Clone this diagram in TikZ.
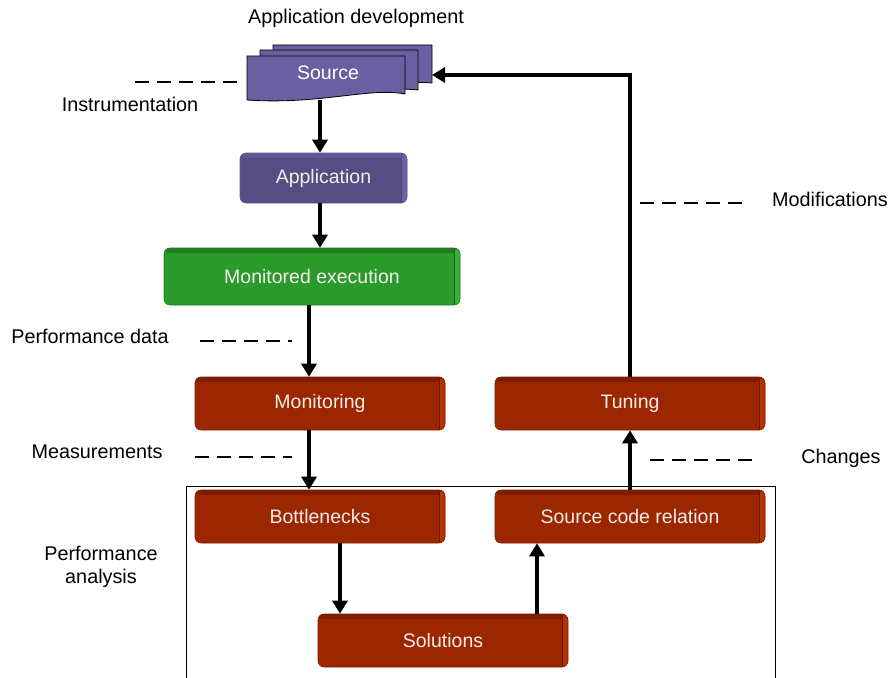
\documentclass[tikz,border=0pt]{standalone}
\usepackage{fontspec}
\setmainfont{Liberation Sans}
\usetikzlibrary{arrows.meta,calc}

\definecolor{redface}{HTML}{9C2600}
\definecolor{redtop}{HTML}{7E1D00}
\definecolor{redside}{HTML}{B83200}
\definecolor{greenface}{HTML}{2A9A2A}
\definecolor{greentop}{HTML}{1F7E1F}
\definecolor{greenside}{HTML}{36B236}
\definecolor{purpface}{HTML}{574D85}
\definecolor{purptop}{HTML}{625894}
\definecolor{purpside}{HTML}{6C61A3}
\definecolor{pagefill}{HTML}{6A5FA0}
\definecolor{boxtext}{HTML}{F4EEE8}

\tikzset{
  lbl/.style={font=\fontsize{19.8}{23}\selectfont, text=black, align=center},
  box3d/.style n args={3}{
    rounded corners=6pt, fill=#1, draw=#2, line width=0.6pt,
    text=boxtext, font=\fontsize{19.5}{23}\selectfont, inner sep=0pt,
    path picture={
      \fill[#2] (path picture bounding box.north west) rectangle ([yshift=-5pt]path picture bounding box.north east);
      \fill[#3] ([xshift=-6pt]path picture bounding box.north east) rectangle (path picture bounding box.south east);
      \draw[#2!80!black, line width=0.4pt] ([xshift=-6pt]path picture bounding box.north east) -- ([xshift=-6pt]path picture bounding box.south east);
    }},
  redbox/.style={box3d={redface}{redtop}{redside}},
  greenbox/.style={box3d={greenface}{greentop}{greenside}},
  purpbox/.style={box3d={purpface}{purptop}{purpside}},
  arr/.style={line width=4pt, -{Triangle[width=15pt,length=13pt]}},
  guide/.style={dash pattern=on 14pt off 8pt, line width=1.2pt},
  page/.style={fill=pagefill, draw=black, line width=0.8pt},
}

\begin{document}
\begin{tikzpicture}[x=1pt,y=-1pt]
\useasboundingbox (0,0) rectangle (891,677);

% stacked source documents (back to front)
\path[page] (273,45) -- (432,45) -- (432,83) .. controls (400,80) and (340,92) .. (273,88) -- cycle;
\path[page] (260,50) -- (418,50) -- (418,90) .. controls (385,86) and (330,99) .. (260,95) -- cycle;
\path[page] (247,56) -- (405,56) -- (405,94) .. controls (370,87) and (320,105) .. (247,100) -- cycle;
\node[text=white, font=\fontsize{19.5}{23}\selectfont] (src) at (328,73) {Source};
\coordinate (srcbot) at (320,100);
\coordinate (srctip) at (432,75);

% process boxes
\node[purpbox, minimum width=167pt, minimum height=50pt] (app) at (323.5,178) {Application};
\node[greenbox, minimum width=296pt, minimum height=57pt] (mexe) at (312,276.5) {Monitored execution};
\node[redbox, minimum width=250pt, minimum height=53pt] (moni) at (320,403.5) {Monitoring};
\node[redbox, minimum width=270pt, minimum height=53pt] (tun) at (630,403.5) {Tuning};
\node[redbox, minimum width=250pt, minimum height=53pt] (bott) at (320,516.5) {Bottlenecks};
\node[redbox, minimum width=270pt, minimum height=53pt] (scr) at (630,516.5) {Source code relation};
\node[redbox, minimum width=250pt, minimum height=53pt] (sol) at (443,640.5) {Solutions};

% performance analysis frame
\draw[line width=0.9pt] (186,486) rectangle (775,690);

% flow arrows
\draw[arr] (srcbot) -- ([xshift=-3.5pt]app.north);
\draw[arr] ([xshift=-3.5pt]app.south) -- ([xshift=8pt]mexe.north);
\draw[arr] ([xshift=-3pt]mexe.south) -- ([xshift=-11pt]moni.north);
\draw[arr] ([xshift=-11pt]moni.south) -- ([xshift=-11pt]bott.north);
\draw[arr] ([xshift=20pt]bott.south) -- ([xshift=-103pt]sol.north);
\draw[arr] ([xshift=94pt]sol.north) -- ([xshift=-93pt]scr.south);
\draw[arr] (scr.north) -- (tun.south);
\draw[arr] (tun.north) |- (srctip);

% dashed guide marks
\draw[guide] (135,82) -- (240,82);
\draw[guide] (200,341) -- (292,341);
\draw[guide] (195,457) -- (292,457);
\draw[guide] (640,203) -- (745,203);
\draw[guide] (650,460) -- (755,460);

% labels
\node[lbl] (tdev) at (356,18) {Application development};
\node[lbl] (tinst) at (130,104) {Instrumentation};
\node[lbl] (tpd) at (90,336) {Performance data};
\node[lbl] (tmeas) at (97,452) {Measurements};
\node[lbl] (tpa) at (101,567) {Performance\\analysis};
\node[lbl] (tmod) at (830,199) {Modifications};
\node[lbl] (tchg) at (841,458) {Changes};
\end{tikzpicture}
\end{document}
